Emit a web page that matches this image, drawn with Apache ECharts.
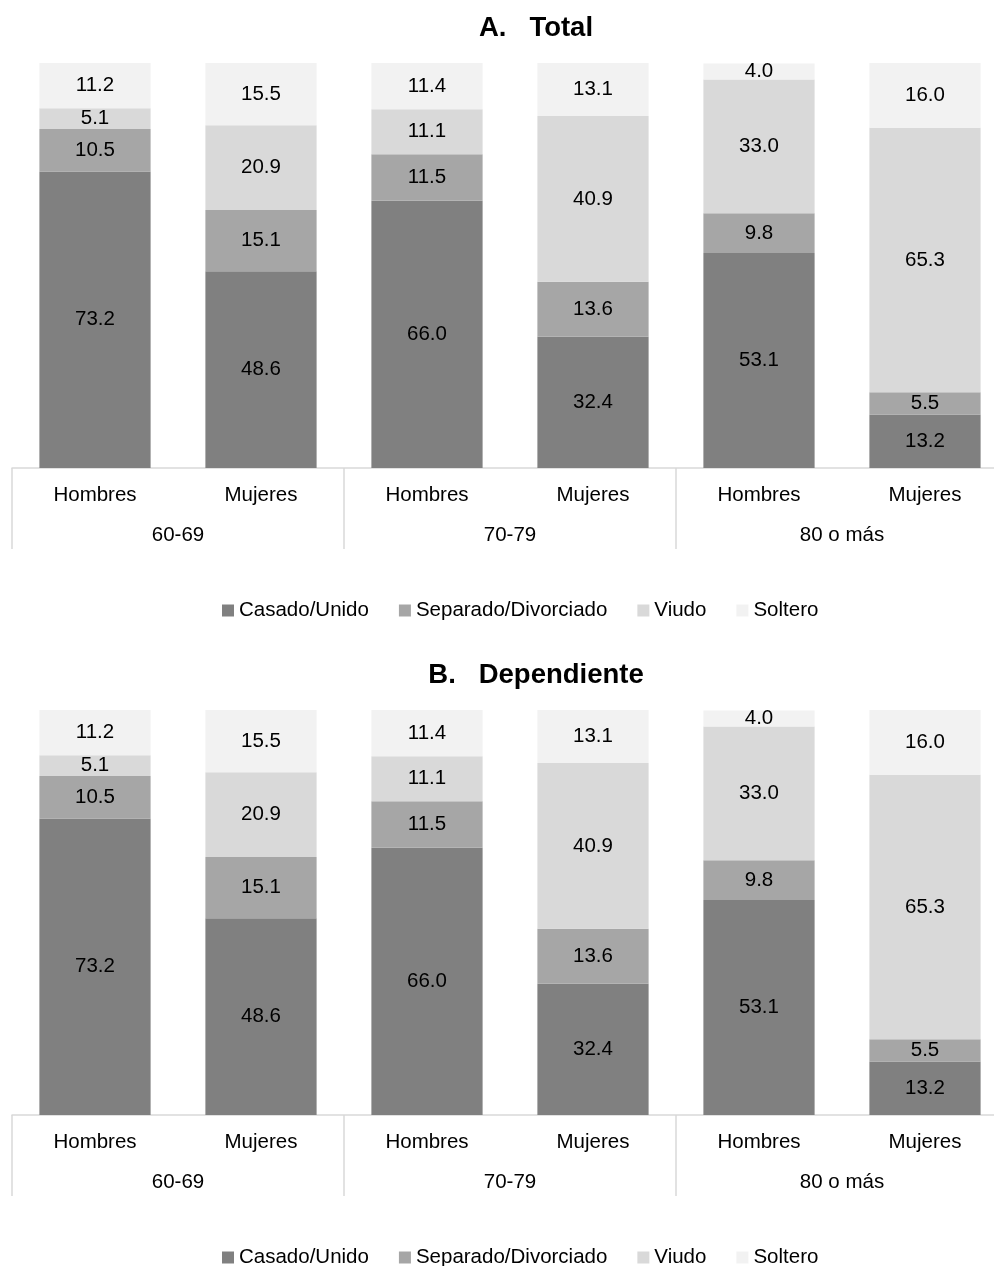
<!DOCTYPE html>
<html>
<head>
<meta charset="utf-8">
<script src="https://cdn.jsdelivr.net/npm/echarts@6/dist/echarts.min.js"></script>
<style>
  html, body { margin: 0; padding: 0; background: #fff; }
  #chart { width: 994px; height: 1266px; }
</style>
</head>
<body>
<div id="chart"></div>
<script>
// Categories: sex within age group
const sexLabels = ['Hombres', 'Mujeres', 'Hombres', 'Mujeres', 'Hombres', 'Mujeres'];
const ageGroups = ['60-69', '70-79', '80 o más'];
const seriesNames = ['Casado/Unido', 'Separado/Divorciado', 'Viudo', 'Soltero'];

// Panel A: Total (%)
const totalCasado    = [73.2, 48.6, 66.0, 32.4, 53.1, 13.2];
const totalSeparado  = [10.5, 15.1, 11.5, 13.6,  9.8,  5.5];
const totalViudo     = [ 5.1, 20.9, 11.1, 40.9, 33.0, 65.3];
const totalSoltero   = [11.2, 15.5, 11.4, 13.1,  4.0, 16.0];

// Panel B: Dependiente (%)
const depCasado      = [73.2, 48.6, 66.0, 32.4, 53.1, 13.2];
const depSeparado    = [10.5, 15.1, 11.5, 13.6,  9.8,  5.5];
const depViudo       = [ 5.1, 20.9, 11.1, 40.9, 33.0, 65.3];
const depSoltero     = [11.2, 15.5, 11.4, 13.1,  4.0, 16.0];

const colors = ['#808080', '#a6a6a6', '#d9d9d9', '#f2f2f2'];
const FONT = '"Liberation Sans", Arial, sans-serif';
const lineColor = '#d9d9d9';
const FS = 20.5;

const panels = [
  { title: 'A.   Total', top: 63, data: [totalCasado, totalSeparado, totalViudo, totalSoltero], titleTop: 9, legendTop: 595 },
  { title: 'B.   Dependiente', top: 710, data: [depCasado, depSeparado, depViudo, depSoltero], titleTop: 656, legendTop: 1242 }
];

const option = {
  animation: false,
  textStyle: { fontFamily: FONT },
  title: [],
  legend: [],
  grid: [],
  xAxis: [],
  yAxis: [],
  series: []
};

panels.forEach((p, i) => {
  option.title.push({
    text: p.title,
    left: 531,
    top: p.titleTop,
    textAlign: 'center',
    textStyle: { fontFamily: FONT, fontSize: 27.5, fontWeight: 'bold', color: '#000' }
  });
  option.legend.push({
    left: 217,
    top: p.legendTop,
    icon: 'rect',
    itemWidth: 12,
    itemHeight: 12,
    itemGap: 30,
    data: seriesNames,
    textStyle: { fontFamily: FONT, fontSize: FS, color: '#000' }
  });
  option.grid.push({ left: 12, width: 996, top: p.top, height: 405, outerBoundsMode: 'none', containLabel: false });

  // Sex labels with the baseline
  option.xAxis.push({
    type: 'category',
    gridIndex: i,
    data: sexLabels,
    axisLine: { lineStyle: { color: lineColor, width: 1.5 } },
    axisTick: { show: false },
    axisLabel: { margin: 17, fontSize: FS, color: '#000', fontFamily: FONT, interval: 0 }
  });
  // Age group labels with separators
  option.xAxis.push({
    type: 'category',
    gridIndex: i,
    position: 'bottom',
    data: ageGroups,
    axisLine: { show: false },
    axisTick: { show: true, length: 81, lineStyle: { color: lineColor, width: 1.5 } },
    axisLabel: { margin: 57, fontSize: FS, color: '#000', fontFamily: FONT, interval: 0 }
  });
  option.yAxis.push({
    type: 'value',
    gridIndex: i,
    min: 0,
    max: 100,
    show: false,
    splitLine: { show: false }
  });

  p.data.forEach((values, k) => {
    option.series.push({
      name: seriesNames[k],
      type: 'bar',
      stack: 'panel' + i,
      xAxisIndex: i * 2,
      yAxisIndex: i,
      barWidth: '67%',
      data: values,
      itemStyle: { color: colors[k] },
      label: {
        show: true,
        position: 'inside',
        fontSize: FS,
        color: '#000',
        fontFamily: FONT,
        formatter: (d) => d.value.toFixed(1)
      }
    });
  });
});

const chart = echarts.init(document.getElementById('chart'), null, { renderer: 'canvas' });
chart.setOption(option);
</script>
</body>
</html>
